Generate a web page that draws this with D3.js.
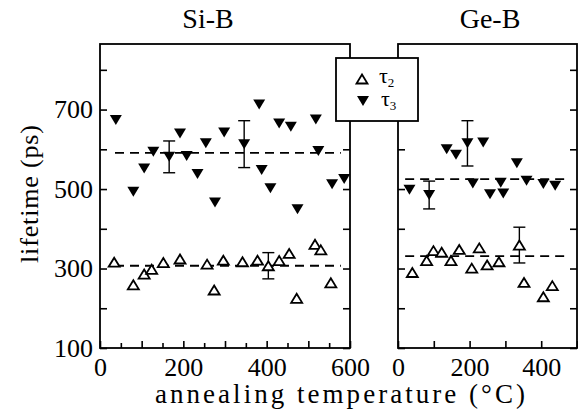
<!DOCTYPE html>
<html>
<head>
<meta charset="utf-8">
<script src="https://cdn.jsdelivr.net/npm/d3@7"></script>
<style>
body { margin: 0; background: #fff; }
</style>
</head>
<body>
<svg id="chart" width="578" height="412"></svg>
<script>
// Si-B panel
let siTemp3 = [38, 80, 106, 128, 166, 192, 208, 234, 254, 276, 298, 346, 382, 388, 409, 430, 458, 474, 518, 524, 557, 586]
let siTau3 = [674, 493, 552, 594, 581, 640, 583, 538, 615, 466, 642, 613, 713, 548, 502, 665, 657, 449, 675, 596, 512, 525]
let siTemp2 = [34, 80, 106, 124, 152, 192, 257, 274, 296, 342, 378, 404, 430, 454, 472, 516, 530, 554]
let siTau2 = [316, 259, 286, 298, 315, 324, 311, 246, 321, 317, 321, 307, 320, 338, 225, 361, 347, 264]
let siErrTemp = [166, 346, 404]
let siErrVal = [581, 613, 307]
let siErrHalf = [40, 59, 33]
let siMean = [591, 307] // tau3, tau2

// Ge-B panel
let geTemp3 = [32, 87, 136, 162, 194, 209, 238, 257, 287, 294, 332, 359, 406, 439]
let geTau3 = [498, 485, 600, 586, 615, 514, 617, 487, 516, 489, 565, 521, 513, 508]
let geTemp2 = [40, 80, 99, 122, 148, 171, 206, 227, 249, 282, 339, 352, 406, 431]
let geTau2 = [290, 320, 345, 341, 320, 348, 301, 352, 309, 317, 359, 265, 229, 257]
let geErrTemp = [87, 194, 339]
let geErrVal = [485, 615, 359]
let geErrHalf = [35, 57, 45]
let geMean = [525, 331]

let yTicks = [100, 200, 300, 400, 500, 600, 700, 800]
let yLabels = [100, 300, 500, 700]

let serif = '"Liberation Serif"'
let svg = d3.select('#chart')
let yTop = 44, yBottom = 348
let y = d3.scaleLinear().domain([100, 865]).range([yBottom, yTop])

let panels = [
	{ name: 'Si-B', x: d3.scaleLinear().domain([0, 600]).range([100, 350]), major: d3.range(0, 601, 100), minor: d3.range(50, 600, 100), labels: [0, 200, 400, 600],
		t3: siTemp3, v3: siTau3, t2: siTemp2, v2: siTau2, et: siErrTemp, ev: siErrVal, eh: siErrHalf, mean: siMean, dash: [36, 578], yLab: true, titleX: 208 },
	{ name: 'Ge-B', x: d3.scaleLinear().domain([0, 500]).range([398, 577]), major: d3.range(0, 501, 100), minor: [], labels: [0, 200, 400],
		t3: geTemp3, v3: geTau3, t2: geTemp2, v2: geTau2, et: geErrTemp, ev: geErrVal, eh: geErrHalf, mean: geMean, dash: [20, 480], yLab: false, titleX: 490 }
]

let tri = (w, h, up) => up
	? `M0,${-h/2}L${w/2},${h/2}L${-w/2},${h/2}Z`
	: `M0,${h/2}L${w/2},${-h/2}L${-w/2},${-h/2}Z`

panels.forEach(p => {
	let g = svg.append('g')
	let x = p.x
	let [x0, x1] = x.range()

	// inward ticks
	let xAx = g.append('g').attr('transform', `translate(0,${yBottom})`)
		.call(d3.axisBottom(x).tickValues(p.major).tickSize(-7).tickPadding(10)
			.tickFormat(d => p.labels.includes(d) ? d : ''))
	xAx.selectAll('text').attr('dy', '0.71em')
	if (p.minor.length) g.append('g').attr('transform', `translate(0,${yBottom})`)
		.call(d3.axisBottom(x).tickValues(p.minor).tickSize(-5).tickFormat(''))
	g.append('g').attr('transform', `translate(${x0},0)`)
		.call(d3.axisLeft(y).tickValues(yTicks).tickSize(-7).tickPadding(7)
			.tickFormat(d => p.yLab && yLabels.includes(d) ? d : ''))
	g.append('g').attr('transform', `translate(${x1},0)`)
		.call(d3.axisRight(y).tickValues(yTicks).tickSize(-7).tickFormat(''))
	g.selectAll('.domain').remove()
	g.selectAll('g').attr('font-family', 'Liberation Serif').attr('font-size', 26)
	g.selectAll('.tick line').attr('stroke', '#000').attr('stroke-width', 1.6)
	g.selectAll('.tick text').attr('fill', '#000')
		.style('font-family', serif).style('font-size', '26px')

	g.append('rect').attr('x', x0).attr('y', yTop).attr('width', x1 - x0).attr('height', yBottom - yTop)
		.attr('fill', 'none').attr('stroke', '#000').attr('stroke-width', 1.8)

	g.append('text').attr('x', p.titleX).attr('y', 28).attr('text-anchor', 'middle')
		.style('font-family', serif).style('font-size', '28px').text(p.name)

	// mean lines
	g.selectAll('line.mean').data(p.mean).enter().append('line')
		.attr('x1', x(p.dash[0])).attr('x2', x(p.dash[1]))
		.attr('y1', d => y(d)).attr('y2', d => y(d))
		.attr('stroke', '#000').attr('stroke-width', 1.8).attr('stroke-dasharray', '9,6')

	// error bars
	let eb = g.selectAll('g.err').data(p.et).enter().append('g')
		.attr('transform', d => `translate(${x(d)},0)`)
	eb.append('line').attr('y1', (d, i) => y(p.ev[i] - p.eh[i])).attr('y2', (d, i) => y(p.ev[i] + p.eh[i]))
		.attr('stroke', '#000').attr('stroke-width', 1.4)
	eb.append('line').attr('x1', -6).attr('x2', 6).attr('y1', (d, i) => y(p.ev[i] - p.eh[i])).attr('y2', (d, i) => y(p.ev[i] - p.eh[i]))
		.attr('stroke', '#000').attr('stroke-width', 1.4)
	eb.append('line').attr('x1', -6).attr('x2', 6).attr('y1', (d, i) => y(p.ev[i] + p.eh[i])).attr('y2', (d, i) => y(p.ev[i] + p.eh[i]))
		.attr('stroke', '#000').attr('stroke-width', 1.4)

	g.selectAll('path.t2').data(p.t2).enter().append('path')
		.attr('transform', (d, i) => `translate(${x(d)},${y(p.v2[i])})`)
		.attr('d', tri(11, 9, true)).attr('fill', '#fff').attr('stroke', '#000').attr('stroke-width', 1.8)
	g.selectAll('path.t3').data(p.t3).enter().append('path')
		.attr('transform', (d, i) => `translate(${x(d)},${y(p.v3[i])})`)
		.attr('d', tri(12, 10, false)).attr('fill', '#000')
})

// legend
let leg = svg.append('g')
leg.append('rect').attr('x', 336).attr('y', 58).attr('width', 82).attr('height', 63)
	.attr('fill', '#fff').attr('stroke', '#000').attr('stroke-width', 1.8)
leg.append('path').attr('transform', 'translate(362,79)').attr('d', tri(11, 9, true))
	.attr('fill', '#fff').attr('stroke', '#000').attr('stroke-width', 1.8)
leg.append('path').attr('transform', 'translate(363,101)').attr('d', tri(12, 10, false)).attr('fill', '#000')
let l2 = leg.append('text').attr('x', 379).attr('y', 83).style('font-family', serif).style('font-size', '22px')
l2.append('tspan').text('τ')
l2.append('tspan').attr('dy', 4).style('font-size', '13px').text('2')
let l3 = leg.append('text').attr('x', 381).attr('y', 106).style('font-family', serif).style('font-size', '22px')
l3.append('tspan').text('τ')
l3.append('tspan').attr('dy', 4).style('font-size', '13px').text('3')

// axis titles
svg.append('text').attr('x', 340).attr('y', 403).attr('text-anchor', 'middle')
	.attr('textLength', 370).attr('lengthAdjust', 'spacing')
	.style('font-family', serif).style('font-size', '27px').text('annealing  temperature  (°C)')
svg.append('text').attr('transform', 'translate(38,194) rotate(-90)').attr('text-anchor', 'middle')
	.attr('textLength', 138).attr('lengthAdjust', 'spacing')
	.style('font-family', serif).style('font-size', '26px').text('lifetime  (ps)')
</script>
</body>
</html>
